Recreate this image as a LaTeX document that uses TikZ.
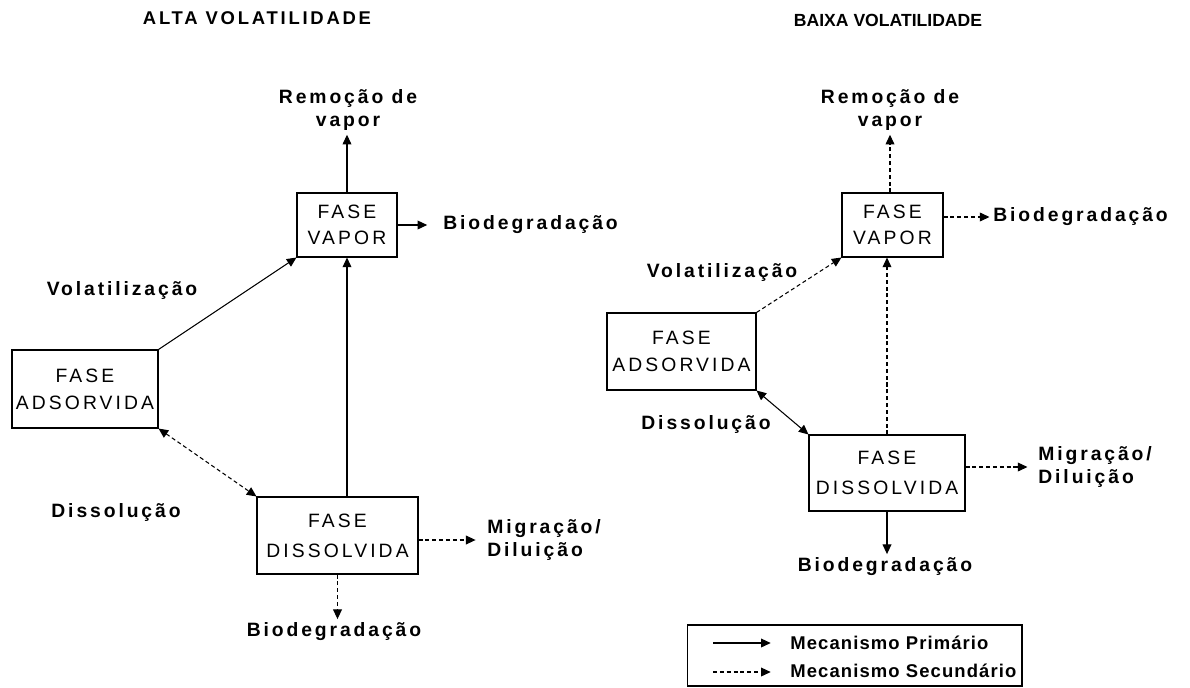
\documentclass[tikz,border=0pt]{standalone}
\usepackage{fontspec}
\setmainfont{Liberation Sans}
\newfontfamily\lblfont[LetterSpace=15]{Liberation Sans}
\newfontfamily\boxfont[LetterSpace=16]{Liberation Sans}
\newfontfamily\legfont[LetterSpace=6]{Liberation Sans}
\usetikzlibrary{arrows.meta}

\begin{document}
\begin{tikzpicture}[
        x=0.02cm, y=-0.02cm,
        >={Triangle[length=5.5pt, width=5pt]},
        fase/.style={rectangle, draw=black, line width=0.6pt, inner sep=0pt, align=center,
                     font=\boxfont\fontsize{11}{14.5}\selectfont},
        lbl/.style={inner sep=2pt, align=center, font=\lblfont\bfseries\fontsize{11}{13.5}\selectfont},
        prim/.style={line width=0.6pt, ->},
        sec/.style={prim, dash pattern=on 2.3pt off 1.6pt}
    ]
        \useasboundingbox (0,0) rectangle (1190,687);

        % alta volatilidade
        \node[lbl, font=\lblfont\bfseries\fontsize{10.5}{12}\selectfont] (ttlAlta) at (257,18.5) {ALTA VOLATILIDADE};
        \node[fase, minimum width=2.0cm, minimum height=1.28cm] (vaporA) at (347,225) {FASE\\VAPOR};
        \node[fase, minimum width=2.92cm, minimum height=1.56cm, font=\boxfont\fontsize{11}{15.5}\selectfont] (adsA) at (85,389) {FASE\\ADSORVIDA};
        \node[fase, minimum width=3.22cm, minimum height=1.54cm, font=\boxfont\fontsize{11}{17}\selectfont] (dissA) at (337.5,535.5) {FASE\\DISSOLVIDA};

        \node[lbl] (remA) at (348,110) {Remoção de\\vapor};
        \node[lbl, anchor=west] (bioVA) at (439.5,225) {Biodegradação};
        \node[lbl] (volA) at (122,290) {Volatilização};
        \node[lbl] (dslA) at (116,512) {Dissolução};
        \node[lbl, anchor=west, align=left] (migA) at (483.5,540) {Migração/\\Diluição};
        \node[lbl] (bioDA) at (334,632) {Biodegradação};

        \draw[prim] (vaporA.north) -- (vaporA.north |- remA.south);
        \draw[prim, shorten >=7pt] (vaporA.east |- bioVA.west) -- (bioVA.west);
        \draw[prim] (adsA.north east) -- (vaporA.south west);
        \draw[prim] (vaporA.south |- dissA.north) -- (vaporA.south);
        \draw[sec, <->] (adsA.south east) -- (dissA.north west);
        \draw[sec, shorten >=4.5pt] (dissA.east |- migA.west) -- (migA.west);
        \draw[sec] (dissA.south) -- (dissA.south |- bioDA.north);

        % baixa volatilidade
        \node[lbl, font=\bfseries\fontsize{10}{12}\selectfont] (ttlBaixa) at (888,20.5) {BAIXA VOLATILIDADE};
        \node[fase, minimum width=2.02cm, minimum height=1.28cm] (vaporB) at (892.5,225) {FASE\\VAPOR};
        \node[fase, minimum width=2.98cm, minimum height=1.54cm, font=\boxfont\fontsize{11}{15.5}\selectfont] (adsB) at (681.5,351.5) {FASE\\ADSORVIDA};
        \node[fase, minimum width=3.12cm, minimum height=1.52cm, font=\boxfont\fontsize{11}{17}\selectfont] (dissB) at (887,473) {FASE\\DISSOLVIDA};

        \node[lbl] (remB) at (890,110) {Remoção de\\vapor};
        \node[lbl, anchor=west] (bioVB) at (989.5,217) {Biodegradação};
        \node[lbl] (volB) at (722,272) {Volatilização};
        \node[lbl] (dslB) at (706,424) {Dissolução};
        \node[lbl, anchor=west, align=left] (migB) at (1034.5,467) {Migração/\\Diluição};
        \node[lbl] (bioDB) at (885,567) {Biodegradação};

        \draw[sec] (remB.south |- vaporB.north) -- (remB.south);
        \draw[sec] (vaporB.east |- bioVB.west) -- (bioVB.west);
        \draw[sec] (adsB.north east) -- (vaporB.south west);
        \draw[sec] (dissB.north) -- (dissB.north |- vaporB.south);
        \draw[prim, <->] (adsB.south east) -- (dissB.north west);
        \draw[sec, shorten >=4pt] (dissB.east |- migB.west) -- (migB.west);
        \draw[prim] (dissB.south) -- (dissB.south |- bioDB.north);

        % legenda
        \node[draw=black, line width=0.6pt, minimum width=6.7cm, minimum height=1.22cm, inner sep=0pt] (legenda) at (854.5,655.5) {};
        \node[lbl, anchor=west, font=\legfont\bfseries\fontsize{10.5}{12}\selectfont] (legP) at (786.5,642.5) {Mecanismo Primário};
        \node[lbl, anchor=west, font=\legfont\bfseries\fontsize{10.5}{12}\selectfont] (legS) at (786.5,671) {Mecanismo Secundário};
        \coordinate (pIni) at (713,643);
        \coordinate (sIni) at (713,672);
        \draw[prim, shorten >=9pt] (pIni) -- (pIni -| legP.west);
        \draw[sec, shorten >=9pt] (sIni) -- (sIni -| legS.west);
\end{tikzpicture}
\end{document}
